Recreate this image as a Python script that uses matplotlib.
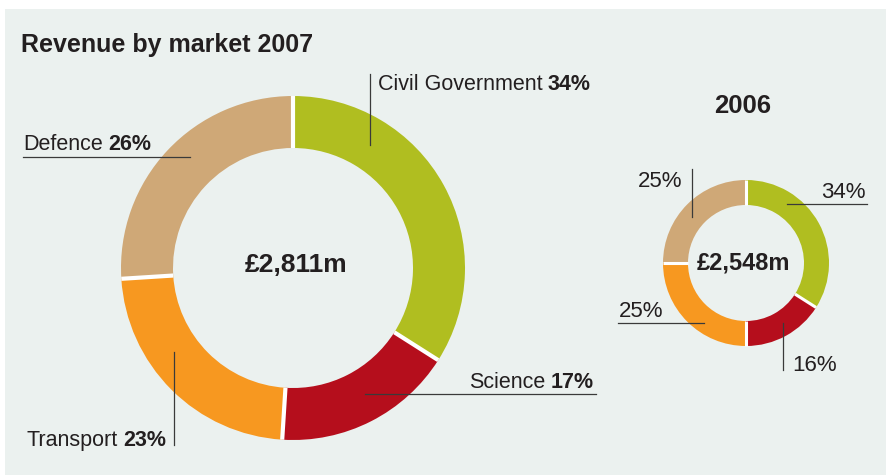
import matplotlib.pyplot as plt
import numpy as np
from matplotlib.patches import Rectangle

plt.rcParams['font.family'] = ['Liberation Sans', 'DejaVu Sans']

# revenue split by market, clockwise from 12 o'clock
markets = ["Civil Government", "Science", "Transport", "Defence"]
share_2007 = [34, 17, 23, 26]
share_2006 = [34, 16, 25, 25]
total_2007 = "£2,811m"
total_2006 = "£2,548m"
colors = ["#B0BE20", "#B50E1C", "#F79820", "#CFA877"]

BG = "#EBF1EF"
INK = "#231F20"
W, H = 887, 475

fig = plt.figure(figsize=(W / 100, H / 100), dpi=100)
fig.patch.set_facecolor("white")
ax = fig.add_axes([0, 0, 1, 1])


def py(y):
    # screen-style y (from top) to axis y
    return H - y


def donut(vals, cx, cy, r, ring, gap):
    ax.pie(vals, colors=colors, radius=r, center=(cx, py(cy)), startangle=90,
           counterclock=False, wedgeprops=dict(width=ring, linewidth=0))
    # white spokes between segments
    cum = np.concatenate([[0], np.cumsum(vals)[:-1]]) / sum(vals)
    for f in cum:
        a = np.deg2rad(90 - 360 * f)
        xs = cx + np.cos(a) * np.array([r - ring, r])
        ys = py(cy) + np.sin(a) * np.array([r - ring, r])
        ax.plot(xs, ys, color="white", lw=gap, solid_capstyle="butt", zorder=5)


def leader(x0, y0, x1, y1):
    ax.plot([x0, x1], [py(y0), py(y1)], color="#3A3A3A", lw=0.9, zorder=6)


renderer = fig.canvas.get_renderer()


def label(x, y, regular, bold, ha="left", size=15.5):
    space = 0.25 * size * 100 / 72
    if ha == "left":
        t = ax.text(x, py(y), regular, fontsize=size, color=INK, va="baseline", ha="left", zorder=7)
        bb = t.get_window_extent(renderer)
        ax.text(bb.x1 + space, py(y), bold, fontsize=size, fontweight="bold",
                color=INK, va="baseline", ha="left", zorder=7)
    else:
        t = ax.text(x, py(y), bold, fontsize=size, fontweight="bold", color=INK,
                    va="baseline", ha="right", zorder=7)
        bb = t.get_window_extent(renderer)
        ax.text(bb.x0 - space, py(y), regular, fontsize=size, color=INK,
                va="baseline", ha="right", zorder=7)


# panel
ax.add_patch(Rectangle((5, 0), W - 5, H - 9, facecolor=BG, edgecolor="none", zorder=0))

donut(share_2007, 293, 268, 172, 52, 3.0)
donut(share_2006, 746, 263, 83, 25, 2.2)

ax.set_xlim(0, W)
ax.set_ylim(0, H)
ax.set_aspect("auto")
ax.axis("off")

ax.text(21, py(52), "Revenue by market 2007", fontsize=18, fontweight="bold", color=INK, va="baseline")
ax.text(743, py(113), "2006", fontsize=18.5, fontweight="bold", color=INK, va="baseline", ha="center")

ax.text(296, py(265), total_2007, fontsize=19, fontweight="bold", color=INK, ha="center", va="center", zorder=7)
ax.text(744, py(263), total_2006, fontsize=17, fontweight="bold", color=INK, ha="center", va="center", zorder=7)

# 2007 labels
label(378, 90, markets[0], f"{share_2007[0]}%")
leader(370, 74, 370, 145)
label(23, 150, markets[3], f"{share_2007[3]}%")
leader(23, 157, 190, 157)
label(594, 388, markets[1], f"{share_2007[1]}%", ha="right")
leader(365, 394, 596, 394)
label(27, 446, markets[2], f"{share_2007[2]}%")
leader(174, 352, 174, 445)

# 2006 labels
small = 16
ax.text(866, py(198), f"{share_2006[0]}%", fontsize=small, color=INK, ha="right", va="baseline", zorder=7)
leader(787, 204, 867, 204)
ax.text(638, py(187), f"{share_2006[3]}%", fontsize=small, color=INK, ha="left", va="baseline", zorder=7)
leader(692, 169, 692, 217)
ax.text(619, py(317), f"{share_2006[2]}%", fontsize=small, color=INK, ha="left", va="baseline", zorder=7)
leader(618, 323, 704, 323)
ax.text(792, py(371), f"{share_2006[1]}%", fontsize=small, color=INK, ha="left", va="baseline", zorder=7)
leader(783, 323, 783, 370)

fig.savefig("out.png", dpi=100, facecolor=fig.get_facecolor())
